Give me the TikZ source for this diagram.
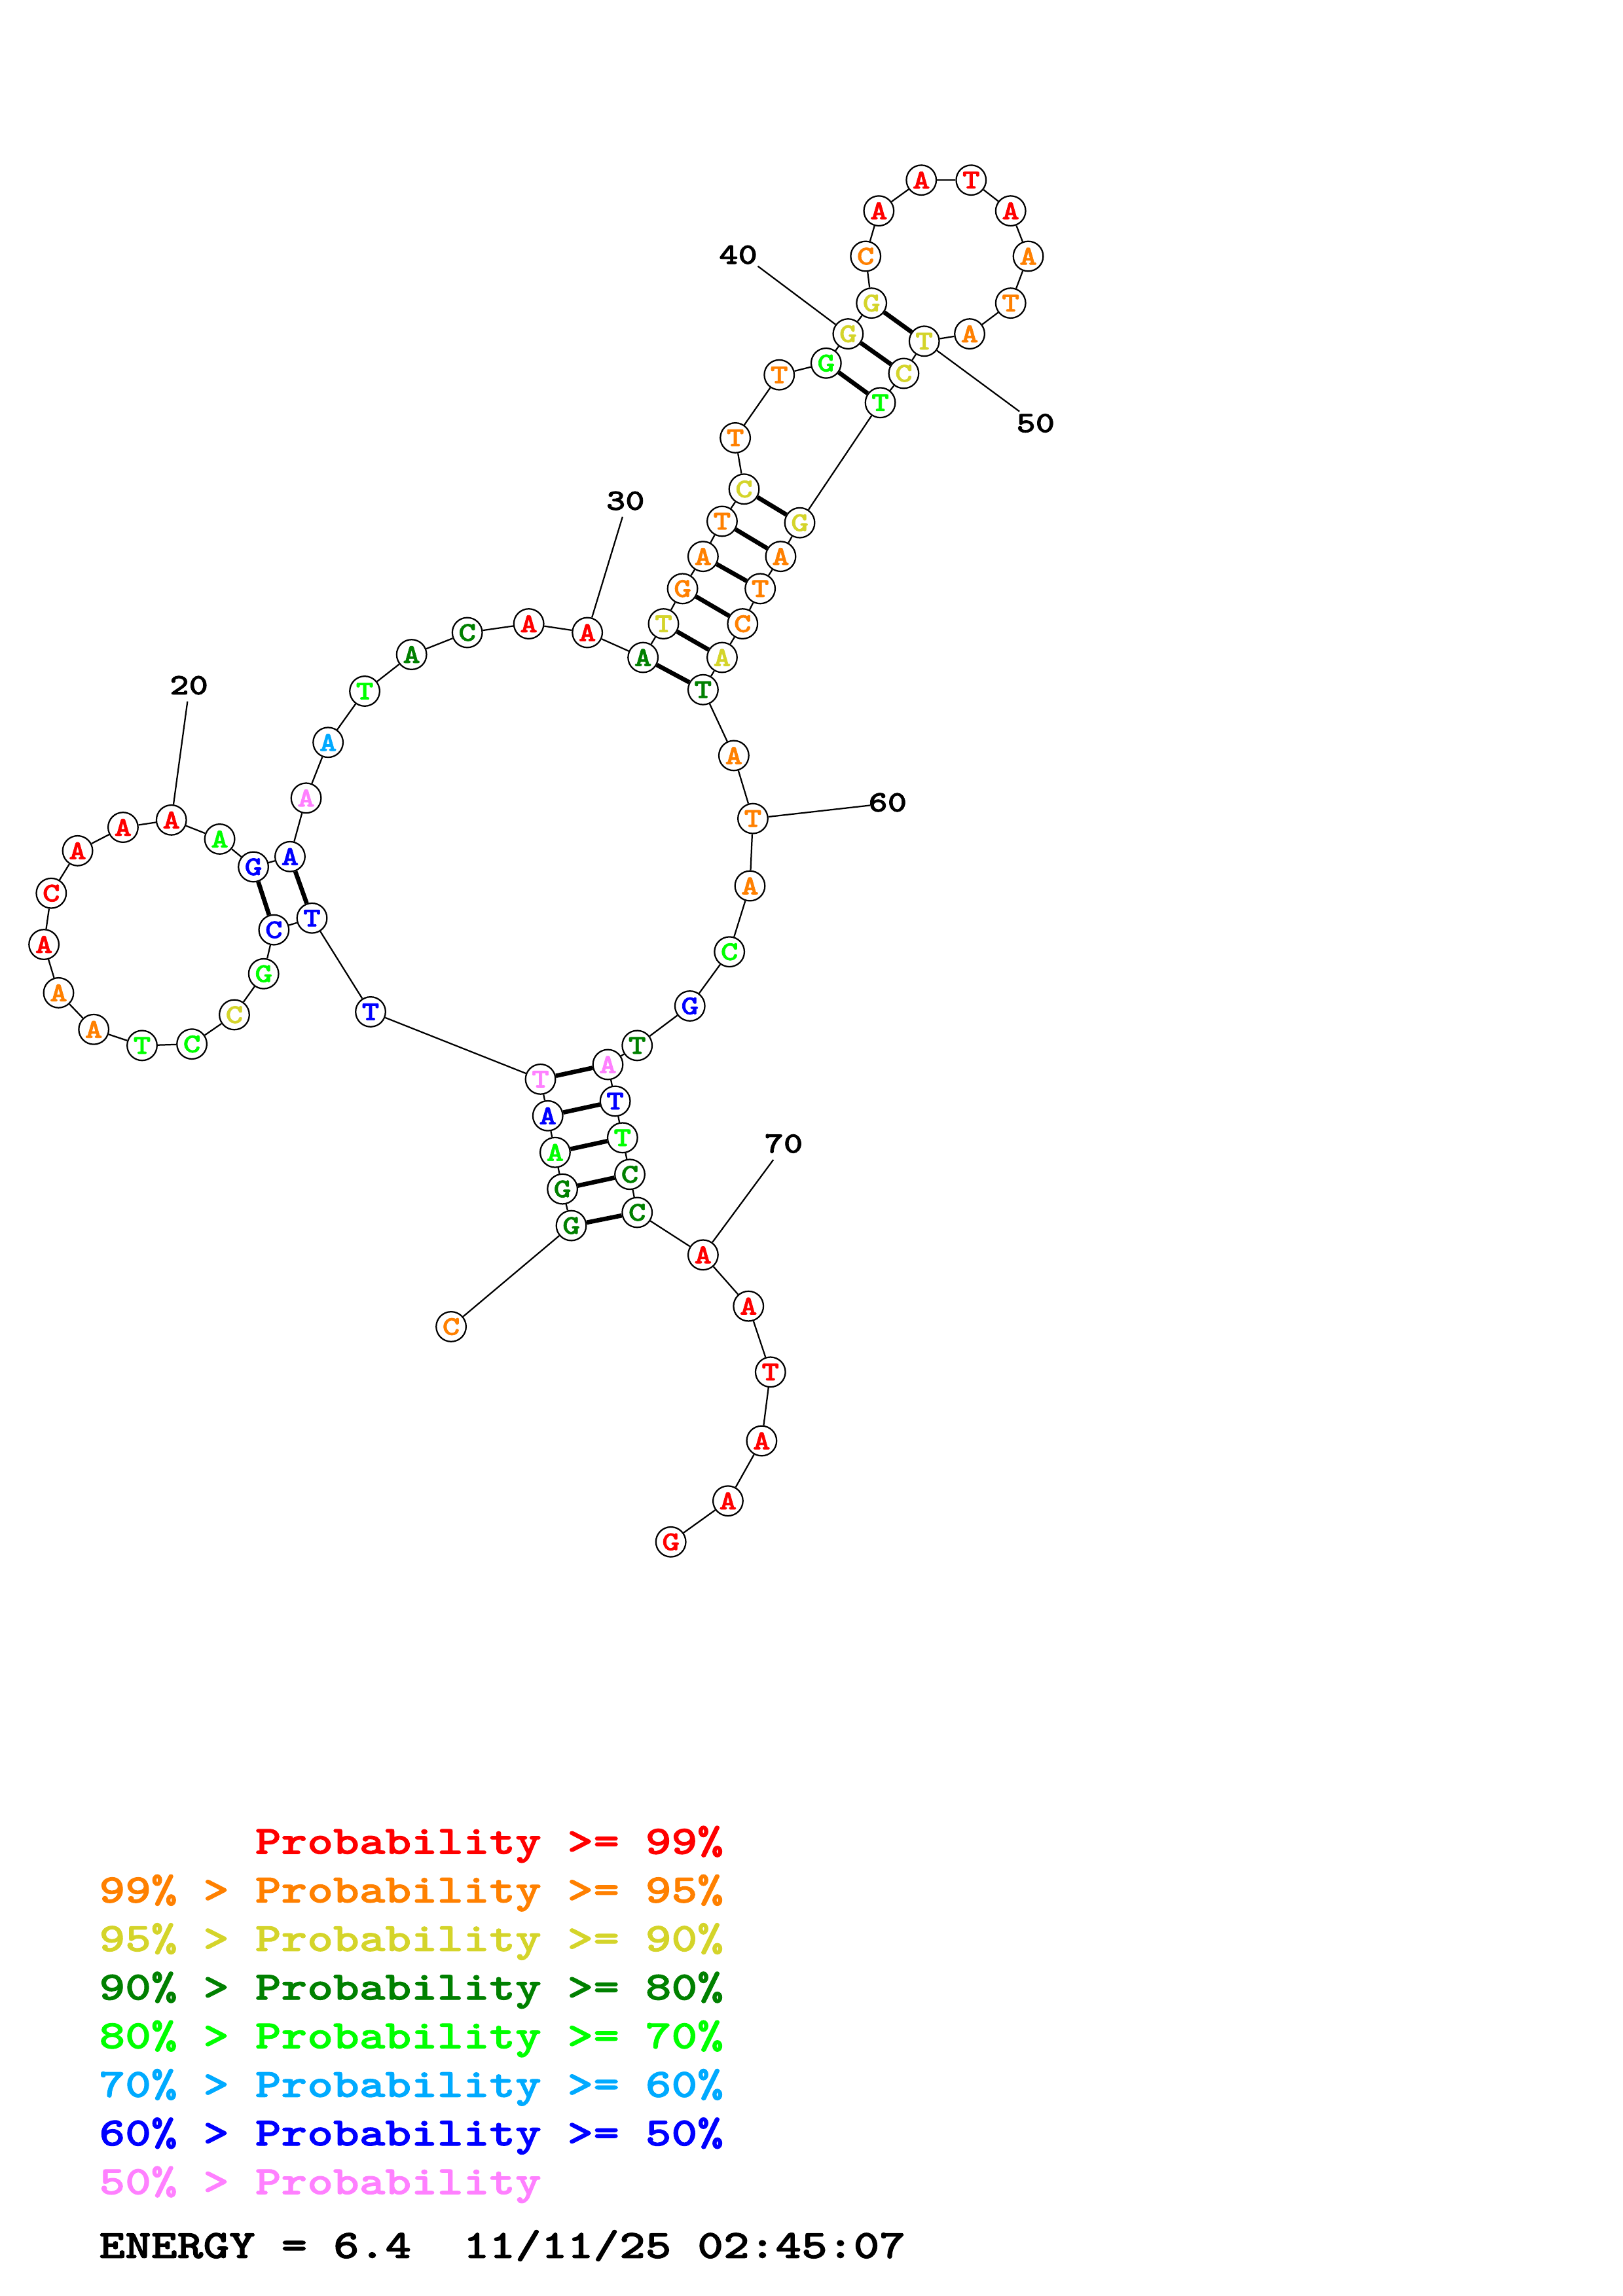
\documentclass[tikz,border=0pt]{standalone}
\usepackage{fontspec}
\newfontfamily\cour[FakeStretch=1.23,FakeBold=1.6]{lmmonolt10-bold.otf}
\usetikzlibrary{backgrounds}
\definecolor{cR}{RGB}{255,0,0}
\definecolor{cO}{RGB}{255,128,0}
\definecolor{cY}{RGB}{212,212,42}
\definecolor{cD}{RGB}{0,128,0}
\definecolor{cG}{RGB}{0,255,0}
\definecolor{cL}{RGB}{0,170,255}
\definecolor{cB}{RGB}{0,0,255}
\definecolor{cP}{RGB}{255,128,255}
\begin{document}
\begin{tikzpicture}[x=1pt,y=-1pt,
  nt/.style={circle,draw=black,line width=1pt,fill=white,minimum size=20.4pt,inner sep=0pt,
    font=\cour\fontsize{18.5}{18.5}\selectfont},
  bbone/.style={line width=1pt},
  bpair/.style={line width=3pt},
  lbl/.style={inner sep=0pt,font=\cour\fontsize{20.3}{20.3}\selectfont},
  leg/.style={anchor=base west,inner sep=0pt,font=\cour\fontsize{27.5}{27.5}\selectfont}]
\path[use as bounding box] (0,0) rectangle (1108,1568);
\foreach \i/\x/\y/\b/\c in {
 1/308/906/C/cO, 2/390/837/G/cD, 3/384/812/G/cD, 4/379/787/A/cG, 5/374/762/A/cB,
 6/369/737/T/cP, 7/253/691/T/cB, 8/213/627/T/cB, 9/187/635/C/cB, 10/180/665/G/cG,
 11/160/693/C/cY, 12/131/713/C/cG, 13/97/714/T/cG, 14/64/703/A/cO, 15/40/678/A/cO,
 16/30/645/A/cR, 17/35/610/C/cR, 18/53/581/A/cR, 19/84/565/A/cR, 20/117/560/A/cR,
 21/150/573/A/cG, 22/173/592/G/cB, 23/198/585/A/cB, 24/209/545/A/cP, 25/224/507/A/cL,
 26/249/472/T/cG, 27/281/447/A/cD, 28/319/432/C/cD, 29/361/426/A/cR, 30/401/432/A/cR,
 31/439/449/A/cD, 32/453/426/T/cY, 33/466/402/G/cO, 34/480/380/A/cO, 35/493/356/T/cO,
 36/508/334/C/cY, 37/502/299/T/cO, 38/532/256/T/cO, 39/564/248/G/cG, 40/579/228/G/cY,
 41/595/207/G/cY, 42/591/175/C/cO, 43/600/144/A/cR, 44/629/123/A/cR, 45/663/123/T/cR,
 46/690/144/A/cR, 47/702/175/A/cO, 48/690/207/T/cO, 49/662/228/A/cO, 50/631/233/T/cY,
 51/617/255/C/cY, 52/601/275/T/cG, 53/546/357/G/cY, 54/533/380/A/cO, 55/519/402/T/cO,
 56/507/426/C/cO, 57/493/449/A/cY, 58/480/471/T/cD, 59/501/516/A/cO, 60/514/559/T/cO,
 61/512/605/A/cO, 62/498/650/C/cG, 63/471/687/G/cB, 64/435/714/T/cD, 65/415/727/A/cP,
 66/420/752/T/cB, 67/425/777/T/cG, 68/430/802/C/cD, 69/435/828/C/cD, 70/480/857/A/cR,
 71/511/892/A/cR, 72/526/937/T/cR, 73/520/984/A/cR, 74/497/1025/A/cR, 75/458/1053/G/cR}
 \node[nt,text=\c] (n\i) at (\x,\y) {\raisebox{-1.2pt}{\b}};
% number labels
\node[lbl] (t20) at (129,468) {20};
\node[lbl] (t30) at (427,342) {30};
\node[lbl] (t40) at (504,174) {40};
\node[lbl] (t50) at (707,289) {50};
\node[lbl] (t60) at (606,548) {60};
\node[lbl] (t70) at (535,781) {70};
\coordinate (c20) at (128,479);
\coordinate (c30) at (425,353);
\coordinate (c40) at (517.4,181.8);
\coordinate (c50) at (696,281);
\coordinate (c60) at (594,550);
\coordinate (c70) at (528,792);
\begin{pgfonlayer}{background}
\foreach \i [evaluate=\i as \j using int(\i+1)] in {1,...,74}
  \draw[bbone] (n\i) -- (n\j);
\foreach \a/\b in {2/69,3/68,4/67,5/66,6/65,8/23,9/22,31/58,32/57,33/56,34/55,35/54,36/53,39/52,40/51,41/50}
  \draw[bpair] (n\a) -- (n\b);
\foreach \k in {20,30,40,50,60,70}
  \draw[bbone] (c\k) -- (n\k);
\end{pgfonlayer}
% legend
\node[leg,text=cR] (g1) at (67.5,1266) {\phantom{99\% > }Probability >= 99\%};
\node[leg,text=cO] (g2) at (67.5,1299.2) {99\% > Probability >= 95\%};
\node[leg,text=cY] (g3) at (67.5,1332.4) {95\% > Probability >= 90\%};
\node[leg,text=cD] (g4) at (67.5,1365.6) {90\% > Probability >= 80\%};
\node[leg,text=cG] (g5) at (67.5,1398.8) {80\% > Probability >= 70\%};
\node[leg,text=cL] (g6) at (67.5,1432) {70\% > Probability >= 60\%};
\node[leg,text=cB] (g7) at (67.5,1465.2) {60\% > Probability >= 50\%};
\node[leg,text=cP] (g8) at (67.5,1498.4) {50\% > Probability};
\node[leg,text=black] (g9) at (67.5,1542) {ENERGY = 6.4\ \ 11/11/25 02:45:07};
\end{tikzpicture}
\end{document}
